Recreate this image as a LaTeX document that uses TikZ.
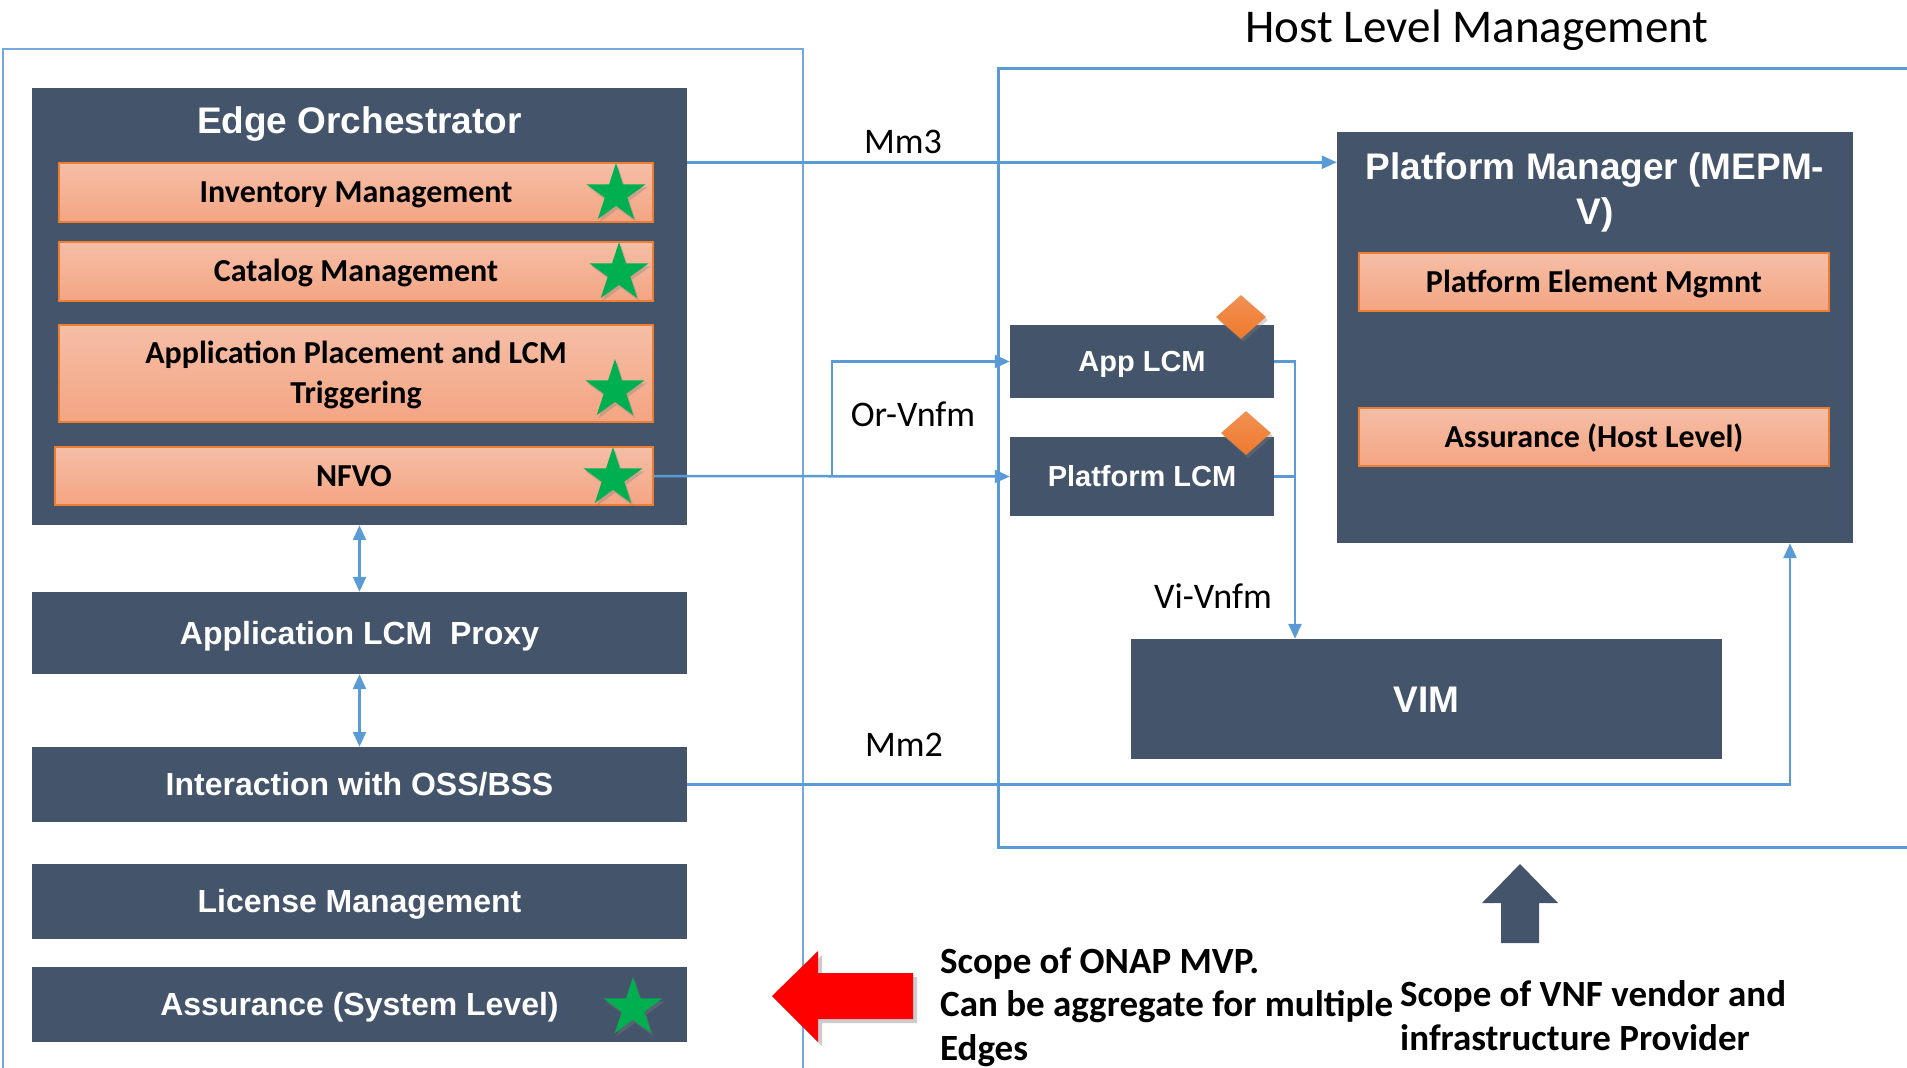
\documentclass[tikz,border=0pt]{standalone}
\usepackage{fontspec}
\usetikzlibrary{arrows.meta,shapes.geometric,shadows}
\newfontfamily\calibrifont{Carlito}
\newfontfamily\arialfont{Liberation Sans}
\definecolor{slate}{HTML}{44546A}
\definecolor{peachtop}{HTML}{F5BEA6}
\definecolor{peachbot}{HTML}{F4A583}
\definecolor{accent}{HTML}{ED7D31}
\definecolor{marktop}{HTML}{F29053}
\definecolor{markbot}{HTML}{EE7A2C}
\definecolor{linkblue}{HTML}{5B9BD5}
\definecolor{stargreen}{HTML}{00B050}

\begin{document}
\begin{tikzpicture}[x=1pt, y=-1pt]
  \tikzset{darkbox/.style={fill=slate, inner sep=0, text=white, text height=22.9pt, text depth=0pt,
             font=\arialfont\bfseries\fontsize{32}{38}\selectfont},
           peachbox/.style={draw=accent, line width=1.5pt, top color=peachtop,
             bottom color=peachbot, inner sep=0, minimum width=594pt, align=center,
             text height=20.6pt, text depth=0pt,
             font=\calibrifont\bfseries\fontsize{32}{40}\selectfont},
           goodstar/.style={star, star points=5, star point ratio=2.618, fill=stargreen,
             minimum size=62pt, inner sep=0,
             drop shadow={opacity=0.35, shadow xshift=2pt, shadow yshift=-3pt}},
           vnfmark/.style={diamond, minimum width=50pt, minimum height=44pt, inner sep=0,
             top color=marktop, bottom color=markbot,
             drop shadow={opacity=0.35, shadow xshift=2pt, shadow yshift=-3pt}},
           link/.style={draw=linkblue, line width=2.5pt},
           ifacelabel/.style={font=\calibrifont\fontsize{36}{40}\selectfont},
           note/.style={align=left, inner sep=0, anchor=base west,
             font=\calibrifont\bfseries\fontsize{37}{43.5}\selectfont}}
  \useasboundingbox (0,0) rectangle (1907,1068);

  % scope frames
  \draw[draw=linkblue!85!white, line width=2pt] (3,1070) -- (3,49) -- (803,49) -- (803,1070);
  \draw[draw=linkblue, line width=3pt] (1910,68) -- (998,68) -- (998,847) -- (1910,847);
  \node[font=\calibrifont\fontsize{47}{50}\selectfont] (hlm) at (1477,30) {Host Level Management};

  % orchestrator side
  \node[darkbox, minimum width=655pt, minimum height=437pt] (eo) at (359.5,306.5) {};
  \node[text=white, text height=26.5pt, text depth=0pt, font=\arialfont\bfseries\fontsize{37}{40}\selectfont] (eotitle) at (359.5,120) {Edge Orchestrator};
  \node[peachbox, minimum height=59pt] (inv) at (356,192.5) {Inventory Management};
  \node[peachbox, minimum height=59pt] (cat) at (356,271.5) {Catalog Management};
  \node[peachbox, minimum height=97pt, text height=60.6pt] (apl) at (356,373.5) {Application Placement and LCM\\Triggering};
  \node[peachbox, minimum width=598pt, minimum height=58pt] (nfvo) at (354,476) {NFVO};
  \node[darkbox, minimum width=655pt, minimum height=82pt] (proxy) at (359.5,633) {Application LCM\ \ Proxy};
  \node[darkbox, minimum width=655pt, minimum height=75pt] (oss) at (359.5,784.5) {Interaction with OSS/BSS};
  \node[darkbox, minimum width=655pt, minimum height=75pt] (lic) at (359.5,901.5) {License Management};
  \node[darkbox, minimum width=655pt, minimum height=75pt] (asys) at (359.5,1004.5) {Assurance (System Level)};
  \node[goodstar] (s1) at (616,194) {};
  \node[goodstar] (s2) at (619,273) {};
  \node[goodstar] (s3) at (615,390) {};
  \node[goodstar] (s4) at (613,478) {};
  \node[goodstar] (s5) at (633,1008) {};

  % host side
  \node[darkbox, minimum width=516pt, minimum height=411pt] (pm) at (1595,337.5) {};
  \node[text=white, align=center, text height=71.5pt, text depth=0pt, font=\arialfont\bfseries\fontsize{37}{45}\selectfont] (pmtitle) at (1595,188.5) {Platform Manager (MEPM-\\V)};
  \node[peachbox, minimum width=470pt, minimum height=58pt] (pem) at (1594,282) {Platform Element Mgmnt};
  \node[peachbox, minimum width=470pt, minimum height=58pt] (ahl) at (1594,437) {Assurance (Host Level)};
  \node[darkbox, minimum width=264pt, minimum height=73pt, text height=20.8pt, font=\arialfont\bfseries\fontsize{29}{34}\selectfont] (applcm) at (1142,361.5) {App LCM};
  \node[darkbox, minimum width=264pt, minimum height=79pt, text height=20.8pt, font=\arialfont\bfseries\fontsize{29}{34}\selectfont] (plcm) at (1142,476.5) {Platform LCM};
  \node[vnfmark] (d1) at (1241,317) {};
  \node[vnfmark] (d2) at (1246,433) {};
  \node[darkbox, minimum width=591pt, minimum height=120pt, text height=26.5pt, font=\arialfont\bfseries\fontsize{37}{40}\selectfont] (vim) at (1426.5,699) {VIM};

  % reference points
  \coordinate (orv) at (832,476);
  \coordinate (viv) at (1295,0);
  \coordinate (mmx) at (1790,0);

  % interfaces
  \tikzset{>={Triangle[length=15pt,width=13pt]}}
  \draw[link,<->] (eo.south) -- (proxy.north);
  \draw[link,<->] (proxy.south) -- (oss.north);
  \draw[link,->] (inv.north -| eo.east) -- (inv.north -| pm.west);
  \draw[link,->] (nfvo.east) -- (plcm.west);
  \draw[link,->] (orv) |- (applcm.west);
  \draw[link,->] (applcm.east) -| (viv |- vim.north);
  \draw[link] (plcm.east) -- (viv |- plcm.east);
  \draw[link,->] (oss.east) -| (mmx |- pm.south);
  \node[ifacelabel] (mm3) at (903,142) {Mm3};
  \node[ifacelabel] (orvnfm) at (913,414) {Or-Vnfm};
  \node[ifacelabel] (vivnfm) at (1213,596) {Vi-Vnfm};
  \node[ifacelabel] (mm2) at (904,745) {Mm2};

  % scope notes
  \fill[red, drop shadow={opacity=0.4, shadow xshift=4pt, shadow yshift=-4pt}]
    (772,996) -- (818,951) -- (818,973) -- (913,973) -- (913,1019) -- (818,1019) -- (818,1042) -- cycle;
  \fill[slate] (1520,864) -- (1558,903) -- (1539,903) -- (1539,943) -- (1501,943) -- (1501,903) -- (1482,903) -- cycle;
  \node[note] (onap) at (940,1060) {Scope of ONAP MVP.\\Can be aggregate for multiple\\Edges};
  \node[note] (vendor) at (1400,1050) {Scope of VNF vendor and\\infrastructure Provider};
\end{tikzpicture}
\end{document}
